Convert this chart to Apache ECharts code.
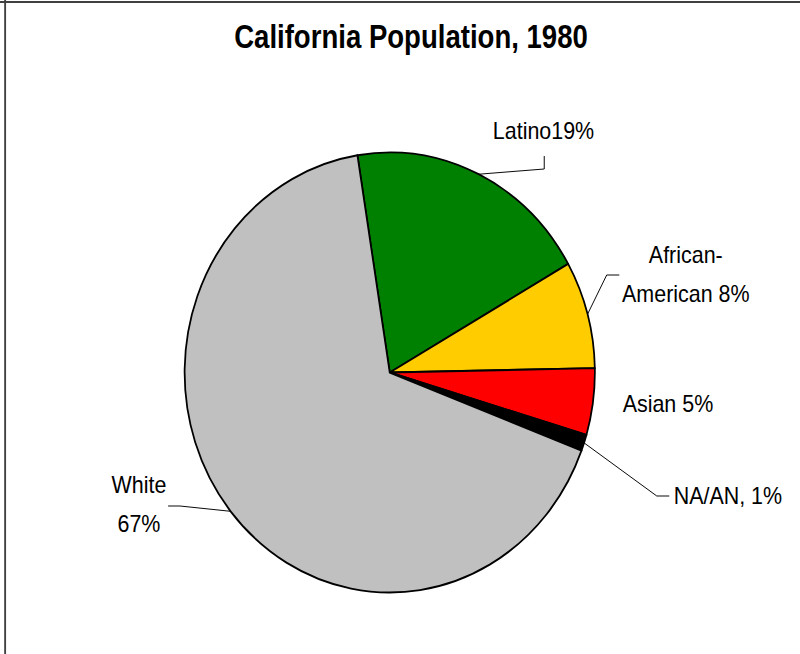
<!DOCTYPE html>
<html>
<head>
<meta charset="utf-8">
<script src="https://cdn.jsdelivr.net/npm/echarts@6/dist/echarts.min.js"></script>
<style>
html,body{margin:0;padding:0;background:#fff;overflow:hidden;width:800px;height:654px;}
#wrap{position:absolute;left:0;top:0;width:858px;height:654px;transform:scaleX(0.9324);transform-origin:0 0;}
</style>
</head>
<body>
<div id="wrap"></div>
<script>
// ---- data ----
const categories = ['Latino', 'African-American', 'Asian', 'NA/AN', 'White'];
const shares = [19.3, 7.9, 4.9, 1.2, 66.7];
const labelTexts = ['Latino19%', 'African-\nAmerican 8%', 'Asian 5%', 'NA/AN, 1%', 'White\n67%'];
const titleText = 'California Population, 1980';

// ---- styles / layout ----
const colors = ['#008000', '#FFCC00', '#FF0000', '#000000', '#C0C0C0'];
const labelLayouts = [
  {x: 528.6, y: 131.5, align: 'left',   line: [[583.7, 169], [583.7, 156]]},
  {x: 735.5, y: 275,   align: 'center', line: [[650.7, 275], [664.2, 275]]},
  {x: 667.8, y: 403.8, align: 'left',   line: null},
  {x: 722.5, y: 496.3, align: 'left',   line: [[704.4, 496], [717.8, 496]]},
  {x: 149,   y: 504.7, align: 'center', line: [[193.1, 506], [180.3, 506]]}
];

const chart = echarts.init(document.getElementById('wrap'), null, {renderer: 'svg'});
chart.setOption({
  animation: false,
  backgroundColor: '#ffffff',
  graphic: [
    {type: 'line', shape: {x1: 0, y1: 2, x2: 858, y2: 2}, style: {stroke: '#404040', lineWidth: 2}},
    {type: 'line', shape: {x1: 5.5, y1: 0, x2: 5.5, y2: 654}, style: {stroke: '#404040', lineWidth: 2}},
    {type: 'text', x: 440.8, y: 35.9, scaleX: 0.896,
     style: {text: titleText, x: 0, y: 0, align: 'center', verticalAlign: 'middle',
             font: 'bold 33px "Liberation Sans", Arial, sans-serif', fill: '#000'}}
  ],
  series: [{
    type: 'pie',
    center: [418, 372.5],
    radius: 220,
    startAngle: 99.06,
    clockwise: true,
    avoidLabelOverlap: false,
    itemStyle: {borderColor: '#000', borderWidth: 1.9},
    label: {
      show: true, position: 'outside', color: '#000',
      fontFamily: '"Liberation Sans", Arial, sans-serif', fontSize: 23, lineHeight: 39,
      formatter: p => labelTexts[p.dataIndex]
    },
    labelLine: {show: true, lineStyle: {color: '#000', width: 1}, length: 10, length2: 10},
    labelLayout: function (params) {
      const L = labelLayouts[params.dataIndex];
      const res = {x: L.x, y: L.y, align: L.align, verticalAlign: 'middle'};
      if (L.line && params.labelLinePoints) {
        res.labelLinePoints = [params.labelLinePoints[0], L.line[0], L.line[1]];
      }
      return res;
    },
    data: categories.map((c, i) => ({
      name: c, value: shares[i],
      itemStyle: {color: colors[i]},
      labelLine: {show: labelLayouts[i].line !== null}
    }))
  }]
});
</script>
</body>
</html>
